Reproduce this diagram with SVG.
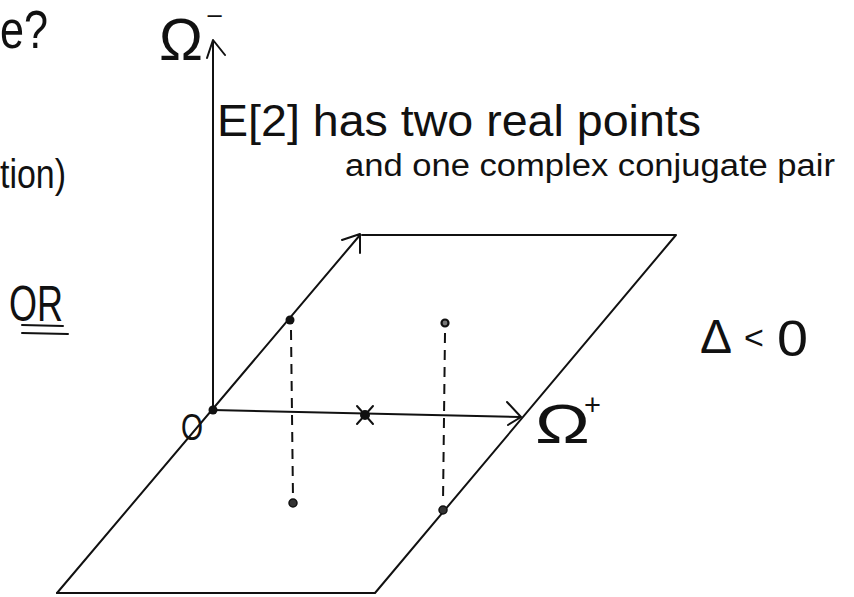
<svg xmlns="http://www.w3.org/2000/svg" width="854" height="597" viewBox="0 0 854 597">
<style>
.ln{stroke:#111;stroke-width:2;fill:none;stroke-linecap:round;stroke-linejoin:round}
.ds{stroke:#111;stroke-width:2;fill:none;stroke-dasharray:10 7}
.t{font-family:"Liberation Sans",Arial,sans-serif;fill:#111}
.dot{fill:#111}
</style>
<rect width="854" height="597" fill="#fff"/>
<g id="connectors">
  <!-- vertical axis Omega- -->
  <path class="ln" d="M213,410 L213,40 M207,58 L213,40 L225,55"/>
  <!-- diagonal axis / left edge of plane -->
  <path class="ln" d="M57,593 L360,235 M342,240 L360,234 L360,253"/>
  <!-- horizontal axis Omega+ -->
  <path class="ln" d="M213,410 L520,417 M507,402 L521,417 L508,425"/>
  <!-- plane -->
  <path class="ln" d="M362,235 L676,235 L375,593 L57,593"/>
  <!-- dashed drops -->
  <path class="ds" d="M291,330 L293,498"/>
  <path class="ds" d="M445,333 L443,503"/>
</g>
<g id="origin">
  <circle class="dot" cx="213" cy="410" r="4.5"/>
  <text class="t" x="181" y="440" font-size="37" textLength="22" lengthAdjust="spacingAndGlyphs">O</text>
</g>
<g id="point-diag"><circle class="dot" cx="290" cy="320" r="4.5"/></g>
<g id="point-top"><circle cx="445" cy="323" r="3.5" fill="#777" stroke="#111" stroke-width="2.2"/></g>
<g id="point-low"><circle cx="293" cy="503" r="4" fill="#333" stroke="#111" stroke-width="1.5"/></g>
<g id="point-edge"><circle cx="443" cy="510" r="4" fill="#333" stroke="#111" stroke-width="1.5"/></g>
<g id="point-x">
  <circle class="dot" cx="365" cy="415" r="5"/>
  <path class="ln" d="M357,406 L373,424 M373,406 L357,424"/>
</g>
<g id="label-omega-minus">
  <text class="t" x="159" y="60" font-size="60" textLength="44" lengthAdjust="spacingAndGlyphs">Ω</text>
  <text class="t" x="206" y="24" font-size="24" textLength="17" lengthAdjust="spacingAndGlyphs">−</text>
</g>
<g id="label-omega-plus">
  <text class="t" x="535" y="443" font-size="56" textLength="55" lengthAdjust="spacingAndGlyphs">Ω</text>
  <text class="t" x="584" y="415" font-size="29">+</text>
</g>
<g id="label-delta">
  <text class="t" x="700" y="353" font-size="48">Δ</text>
  <text class="t" x="744" y="349" font-size="34">&lt;</text>
  <text class="t" x="777" y="356" font-size="50" textLength="31" lengthAdjust="spacingAndGlyphs">0</text>
</g>
<g id="label-or">
  <text class="t" x="9" y="321" font-size="50" textLength="54" lengthAdjust="spacingAndGlyphs">OR</text>
  <path class="ln" d="M22,325 L63,326 M22,333 L68,334"/>
</g>
<g id="text-top">
  <text class="t" x="0" y="48" font-size="54" textLength="48" lengthAdjust="spacingAndGlyphs">e?</text>
  <text class="t" x="0" y="188" font-size="40" textLength="66" lengthAdjust="spacingAndGlyphs">tion)</text>
</g>
<g id="text-e2">
  <text class="t" x="217" y="136" font-size="44" textLength="484" lengthAdjust="spacingAndGlyphs">E[2] has two real points</text>
  <text class="t" x="345" y="176" font-size="31" textLength="490" lengthAdjust="spacingAndGlyphs">and one complex conjugate pair</text>
</g>
</svg>
